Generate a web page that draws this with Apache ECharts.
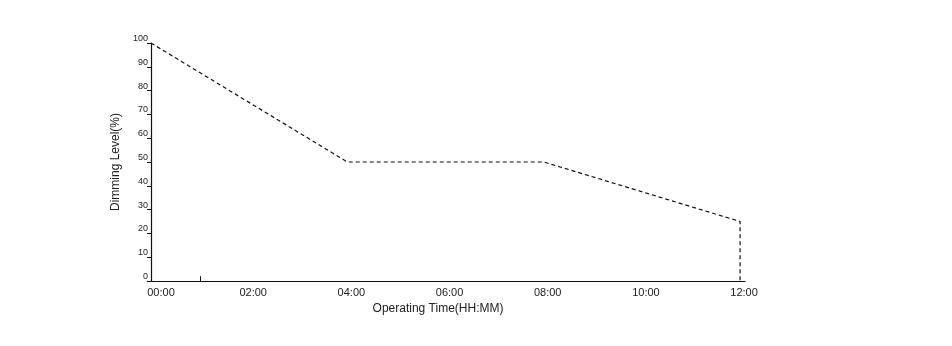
<!DOCTYPE html>
<html><head><meta charset="utf-8">
<script src="https://cdn.jsdelivr.net/npm/echarts@6/dist/echarts.min.js"></script>
<style>html,body{margin:0;padding:0;background:#fff}#c{width:952px;height:346px}</style>
</head><body><div id="c"></div>
<script>
const hours = [0, 4, 8, 12, 12];
const dimming = [100, 50, 50, 25, 0];
const xTickLabels = ['00:00', '02:00', '04:00', '06:00', '08:00', '10:00', '12:00'];
const yTicks = [0, 10, 20, 30, 40, 50, 60, 70, 80, 90, 100];

const chart = echarts.init(document.getElementById('c'));
const font = 'Liberation Sans, Arial, sans-serif';
chart.setOption({
  animation: false,
  grid: { left: 151, right: 207, top: 43, bottom: 65 },
  xAxis: {
    type: 'value', min: 0, max: 12.1, interval: 2,
    name: 'Operating Time(HH:MM)', nameLocation: 'middle', nameGap: 20,
    nameTextStyle: { fontFamily: font, fontSize: 12, color: '#222', padding: [0, 20, 0, 0] },
    axisLine: { lineStyle: { color: '#111', width: 1.2 } },
    axisTick: { show: false },
    splitLine: { show: false },
    axisLabel: {
      fontFamily: font, fontSize: 11, color: '#222', margin: 6, padding: [0, 0, 0, 8],
      formatter: v => {
        const t = xTickLabels[Math.round(v / 2)] ?? '';
        return v === 0 ? '{first|' + t + '}' : t;
      },
      rich: { first: { fontFamily: font, fontSize: 11, color: '#222', padding: [0, 0, 0, 12] } }
    }
  },
  yAxis: {
    type: 'value', min: 0, max: 100, interval: 10,
    name: 'Dimming Level(%)', nameLocation: 'middle', nameGap: 28, nameRotate: 90,
    nameTextStyle: { fontFamily: font, fontSize: 12, color: '#222' },
    axisLine: { show: true, lineStyle: { color: '#111', width: 1.2 } },
    axisTick: { show: true, length: 4, lineStyle: { color: '#111' } },
    splitLine: { show: false },
    axisLabel: {
      fontFamily: font, fontSize: 9, color: '#222', margin: 3, verticalAlign: 'bottom',
      formatter: v => yTicks.includes(v) ? String(v) : ''
    }
  },
  series: [{
    type: 'line',
    data: hours.map((h, i) => [h, dimming[i]]),
    symbol: 'none',
    lineStyle: { color: '#111', width: 1.2, type: [4, 3] },
    markLine: {
      silent: true, symbol: 'none', label: { show: false },
      lineStyle: { color: '#111', width: 1, type: 'solid' },
      data: [[{ coord: [1, 0] }, { coord: [1, 2] }]]
    }
  }]
});
</script></body></html>
